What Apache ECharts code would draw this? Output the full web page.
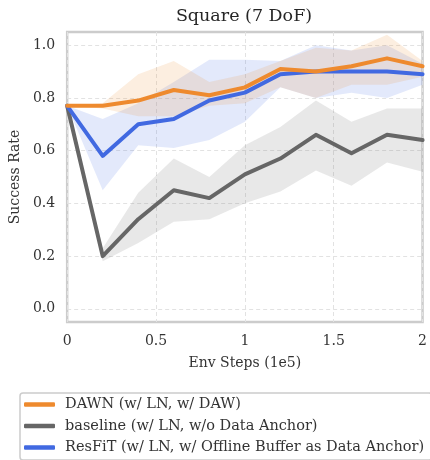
<!DOCTYPE html>
<html>
<head>
<meta charset="utf-8">
<script src="https://cdn.jsdelivr.net/npm/echarts@6/dist/echarts.min.js"></script>
<style>
  html, body { margin: 0; padding: 0; background: #ffffff; }
  #chart { width: 430px; height: 460px; }
</style>
</head>
<body>
<div id="chart"></div>
<script>
// Environment steps (x 1e5)
const steps = [0, 0.2, 0.4, 0.6, 0.8, 1.0, 1.2, 1.4, 1.6, 1.8, 2.0];

// DAWN (w/ LN, w/ DAW): mean and spread
const dawnMean = [0.77, 0.77, 0.79, 0.83, 0.81, 0.84, 0.91, 0.90, 0.92, 0.95, 0.92];
const dawnLow  = [0.77, 0.76, 0.73, 0.73, 0.77, 0.78, 0.84, 0.80, 0.85, 0.85, 0.88];
const dawnHigh = [0.77, 0.78, 0.89, 0.94, 0.86, 0.89, 0.94, 0.99, 0.98, 1.04, 0.94];

// baseline (w/ LN, w/o Data Anchor)
const baseMean = [0.77, 0.20, 0.34, 0.45, 0.42, 0.51, 0.57, 0.66, 0.59, 0.66, 0.64];
const baseLow  = [0.77, 0.18, 0.25, 0.33, 0.34, 0.40, 0.445, 0.525, 0.467, 0.555, 0.52];
const baseHigh = [0.77, 0.23, 0.44, 0.57, 0.50, 0.62, 0.69, 0.79, 0.71, 0.76, 0.76];

// ResFiT (w/ LN, w/ Offline Buffer as Data Anchor)
const resMean = [0.77, 0.58, 0.70, 0.72, 0.79, 0.82, 0.89, 0.90, 0.90, 0.90, 0.89];
const resLow  = [0.77, 0.45, 0.62, 0.61, 0.64, 0.71, 0.84, 0.80, 0.82, 0.80, 0.85];
const resHigh = [0.77, 0.72, 0.78, 0.86, 0.945, 0.945, 0.94, 1.00, 0.98, 1.00, 0.93];

const yTicks = [0, 0.2, 0.4, 0.6, 0.8, 1.0];

const SERIF = "'DejaVu Serif', serif";
const C_DAWN = '#EE8A2E';
const C_BASE = '#666666';
const C_RES = '#4169E1';
const TEXT = '#333333';

function lineSeries(name, ys, color) {
  return {
    name: name,
    type: 'line',
    data: steps.map((x, i) => [x, ys[i]]),
    showSymbol: false,
    symbol: 'none',
    color: color,
    lineStyle: { width: 4, color: color, cap: 'round', join: 'round' },
    emphasis: { disabled: true },
    silent: true
  };
}

function bandSeries(lo, hi, fill) {
  return {
    type: 'custom',
    silent: true,
    data: steps.map((x, i) => [x, lo[i], hi[i]]),
    encode: { x: 0, y: [1, 2] },
    renderItem: function (params, api) {
      if (params.dataIndex !== 0) return;
      const upper = steps.map((x, i) => api.coord([x, hi[i]]));
      const lower = steps.map((x, i) => api.coord([x, lo[i]])).reverse();
      return {
        type: 'polygon',
        shape: { points: upper.concat(lower) },
        style: { fill: fill, stroke: null }
      };
    }
  };
}

const chart = echarts.init(document.getElementById('chart'), null, { renderer: 'canvas' });

chart.setOption({
  animation: false,
  backgroundColor: '#ffffff',
  title: {
    text: 'Square (7 DoF)',
    left: 244,
    top: 7,
    padding: 0,
    textAlign: 'center',
    textStyle: { fontFamily: SERIF, fontSize: 17.5, fontWeight: 'normal', color: '#262626' }
  },
  grid: {
    left: 64, top: 32, width: 360, height: 290,
    show: true, borderColor: '#cccccc', borderWidth: 2.5, backgroundColor: 'transparent'
  },
  legend: {
    orient: 'vertical',
    left: 20,
    top: 393,
    height: 90,
    padding: [3, 8, 4, 4],
    itemGap: 4.5,
    itemWidth: 31,
    itemHeight: 4.5,
    icon: 'roundRect',
    borderColor: '#cccccc',
    borderWidth: 1.5,
    borderRadius: 3,
    selectedMode: false,
    data: ['DAWN (w/ LN, w/ DAW)', 'baseline (w/ LN, w/o Data Anchor)', 'ResFiT (w/ LN, w/ Offline Buffer as Data Anchor)'],
    textStyle: { fontFamily: SERIF, fontSize: 14.5, color: TEXT, lineHeight: 17, padding: [0, 0, 0, 5] }
  },
  xAxis: {
    type: 'value',
    min: 0, max: 2, interval: 0.5,
    name: 'Env Steps (1e5)',
    nameLocation: 'middle',
    nameGap: 34,
    nameTextStyle: { fontFamily: SERIF, fontSize: 14, color: TEXT },
    axisLine: { show: false },
    axisTick: { show: false },
    axisLabel: { fontFamily: SERIF, fontSize: 14, color: TEXT, margin: 12 },
    splitLine: { show: true, lineStyle: { color: '#e2e2e2', width: 1, type: [4, 3] } }
  },
  yAxis: {
    type: 'value',
    min: -0.05, max: 1.05,
    name: 'Success Rate',
    nameLocation: 'middle',
    nameGap: 45,
    nameTextStyle: { fontFamily: SERIF, fontSize: 14, color: TEXT },
    axisLine: { show: false },
    axisTick: { show: false, customValues: yTicks },
    axisLabel: {
      customValues: yTicks,
      fontFamily: SERIF, fontSize: 14, color: TEXT, margin: 12,
      formatter: v => v.toFixed(1)
    },
    splitLine: { show: true, lineStyle: { color: '#e2e2e2', width: 1, type: [4, 3] } }
  },
  series: [
    lineSeries('baseline (w/ LN, w/o Data Anchor)', baseMean, C_BASE),
    bandSeries(baseLow, baseHigh, 'rgba(102,102,102,0.15)'),
    lineSeries('ResFiT (w/ LN, w/ Offline Buffer as Data Anchor)', resMean, C_RES),
    bandSeries(resLow, resHigh, 'rgba(65,105,225,0.15)'),
    lineSeries('DAWN (w/ LN, w/ DAW)', dawnMean, C_DAWN),
    bandSeries(dawnLow, dawnHigh, 'rgba(238,138,46,0.15)')
  ]
});
</script>
</body>
</html>
